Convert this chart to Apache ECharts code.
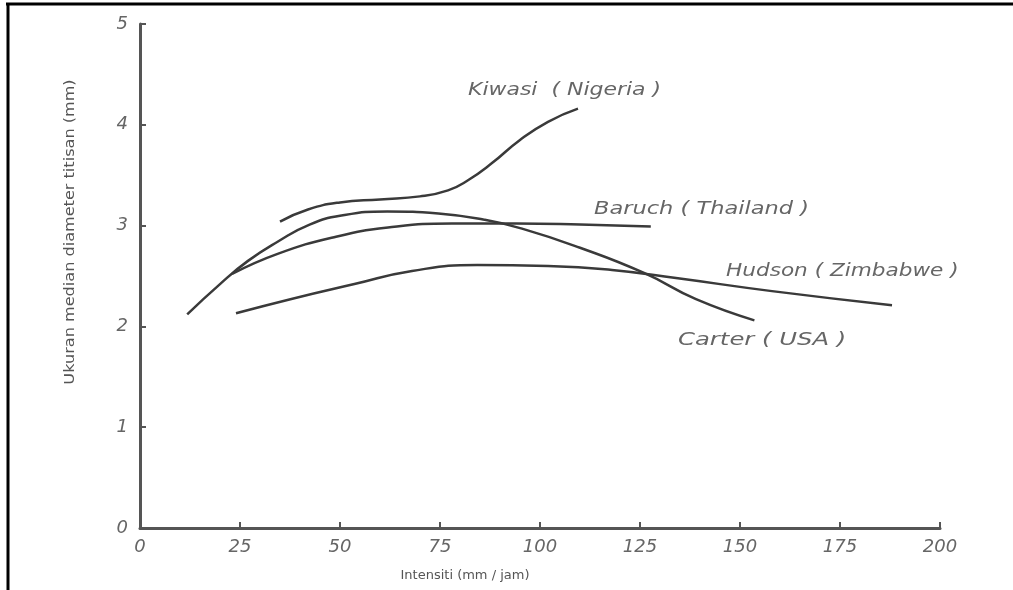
<!DOCTYPE html>
<html><head><meta charset="utf-8">
<script src="https://cdn.jsdelivr.net/npm/echarts@6/dist/echarts.min.js"></script>
<style>html,body{margin:0;padding:0;background:#fff}#c{width:1013px;height:590px}</style>
</head><body><div id="c"></div>
<script>
// x: intensity (mm/jam), y: median drop diameter (mm)
const kiwasiX = [35, 42, 50, 60, 70, 77, 82, 88, 95, 102, 109.5];
const kiwasiY = [3.04, 3.16, 3.23, 3.26, 3.29, 3.35, 3.45, 3.62, 3.85, 4.03, 4.16];
const carterX = [11.8, 20, 27, 34.4, 42.4, 50.4, 61.8, 74.6, 85.8, 95.5, 110, 126, 139, 153.6];
const carterY = [2.12, 2.42, 2.65, 2.84, 3.01, 3.1, 3.14, 3.12, 3.06, 2.97, 2.78, 2.53, 2.27, 2.06];
const baruchX = [23, 34.4, 49, 62, 78, 94, 110, 127.7];
const baruchY = [2.52, 2.72, 2.89, 2.98, 3.02, 3.02, 3.01, 2.99];
const hudsonX = [24, 37.6, 53.6, 68, 84.3, 102, 118, 134, 158, 188];
const hudsonY = [2.13, 2.27, 2.42, 2.55, 2.61, 2.6, 2.56, 2.48, 2.35, 2.21];
const xTicks = [0, 25, 50, 75, 100, 125, 150, 175, 200];
const yTicks = [0, 1, 2, 3, 4, 5];
const curveNames = ['Kiwasi  ( Nigeria )', 'Carter ( USA )', 'Baruch ( Thailand )', 'Hudson ( Zimbabwe )'];
const xTitle = 'Intensiti (mm / jam)';
const yTitle = 'Ukuran median diameter titisan (mm)';

const zip = (xs, ys) => xs.map((x, i) => [x, ys[i]]);
const lineColor = '#3a3a3a';
const mkLine = (name, xs, ys) => ({
  name, type: 'line', smooth: 0.5, showSymbol: false, symbol: 'none',
  data: zip(xs, ys), lineStyle: { color: lineColor, width: 2.5 }, silent: true
});

const chart = echarts.init(document.getElementById('c'), null, { renderer: 'canvas' });
const labelStyle = { fontFamily: 'DejaVu Sans', fontStyle: 'italic', fontSize: 18, fill: '#666' };
chart.setOption({
  animation: false,
  backgroundColor: '#fff',
  grid: { left: 140, right: 73, top: 24, bottom: 62 },
  xAxis: {
    type: 'value', min: 0, max: 200, interval: 25,
    axisLine: { show: true, onZero: false, lineStyle: { color: '#555', width: 3 } },
    axisTick: { show: true, inside: true, length: 6, lineStyle: { color: '#555', width: 2 } },
    axisLabel: { color: '#666', fontFamily: 'DejaVu Sans', fontStyle: 'italic', fontSize: 18, margin: 10,
      formatter: v => xTicks.includes(v) ? String(v) : '' },
    splitLine: { show: false }
  },
  yAxis: {
    type: 'value', min: 0, max: 5, interval: 1,
    axisLine: { show: true, onZero: false, lineStyle: { color: '#555', width: 3 } },
    axisTick: { show: true, inside: true, length: 6, lineStyle: { color: '#555', width: 2 } },
    axisLabel: { color: '#666', fontFamily: 'DejaVu Sans', fontStyle: 'italic', fontSize: 18, margin: 12,
      formatter: v => yTicks.includes(v) ? String(v) : '' },
    splitLine: { show: false }
  },
  series: [
    mkLine(curveNames[0], kiwasiX, kiwasiY),
    mkLine(curveNames[1], carterX, carterY),
    mkLine(curveNames[2], baruchX, baruchY),
    mkLine(curveNames[3], hudsonX, hudsonY)
  ]
});

// place curve labels in data coordinates
const labelAnchors = [[82, 4.34], [134.5, 1.86], [113.5, 3.16], [146.5, 2.55]];
const labelStretch = [1.22, 1.35, 1.25, 1.2];
const g = [
  { type: 'line', shape: { x1: 6, y1: 4, x2: 1013, y2: 4 }, style: { stroke: '#000', lineWidth: 3 } },
  { type: 'line', shape: { x1: 8, y1: 3, x2: 8, y2: 590 }, style: { stroke: '#000', lineWidth: 3 } },
  { type: 'text', x: 465, y: 576, style: Object.assign({}, labelStyle, { text: xTitle, fontStyle: 'normal', fontSize: 13, fill: '#555', align: 'center', verticalAlign: 'middle' }) },
  { type: 'text', x: 70, y: 232, rotation: Math.PI / 2, scaleX: 1.15, style: Object.assign({}, labelStyle, { text: yTitle, fontStyle: 'normal', fontSize: 14, fill: '#555', align: 'center', verticalAlign: 'middle' }) }
];
labelAnchors.forEach((a, i) => {
  const p = chart.convertToPixel({ gridIndex: 0 }, a);
  g.push({ type: 'text', x: p[0], y: p[1], scaleX: labelStretch[i], style: Object.assign({}, labelStyle, { text: curveNames[i], align: 'left', verticalAlign: 'middle' }) });
});
chart.setOption({ graphic: g });
</script>
</body></html>
